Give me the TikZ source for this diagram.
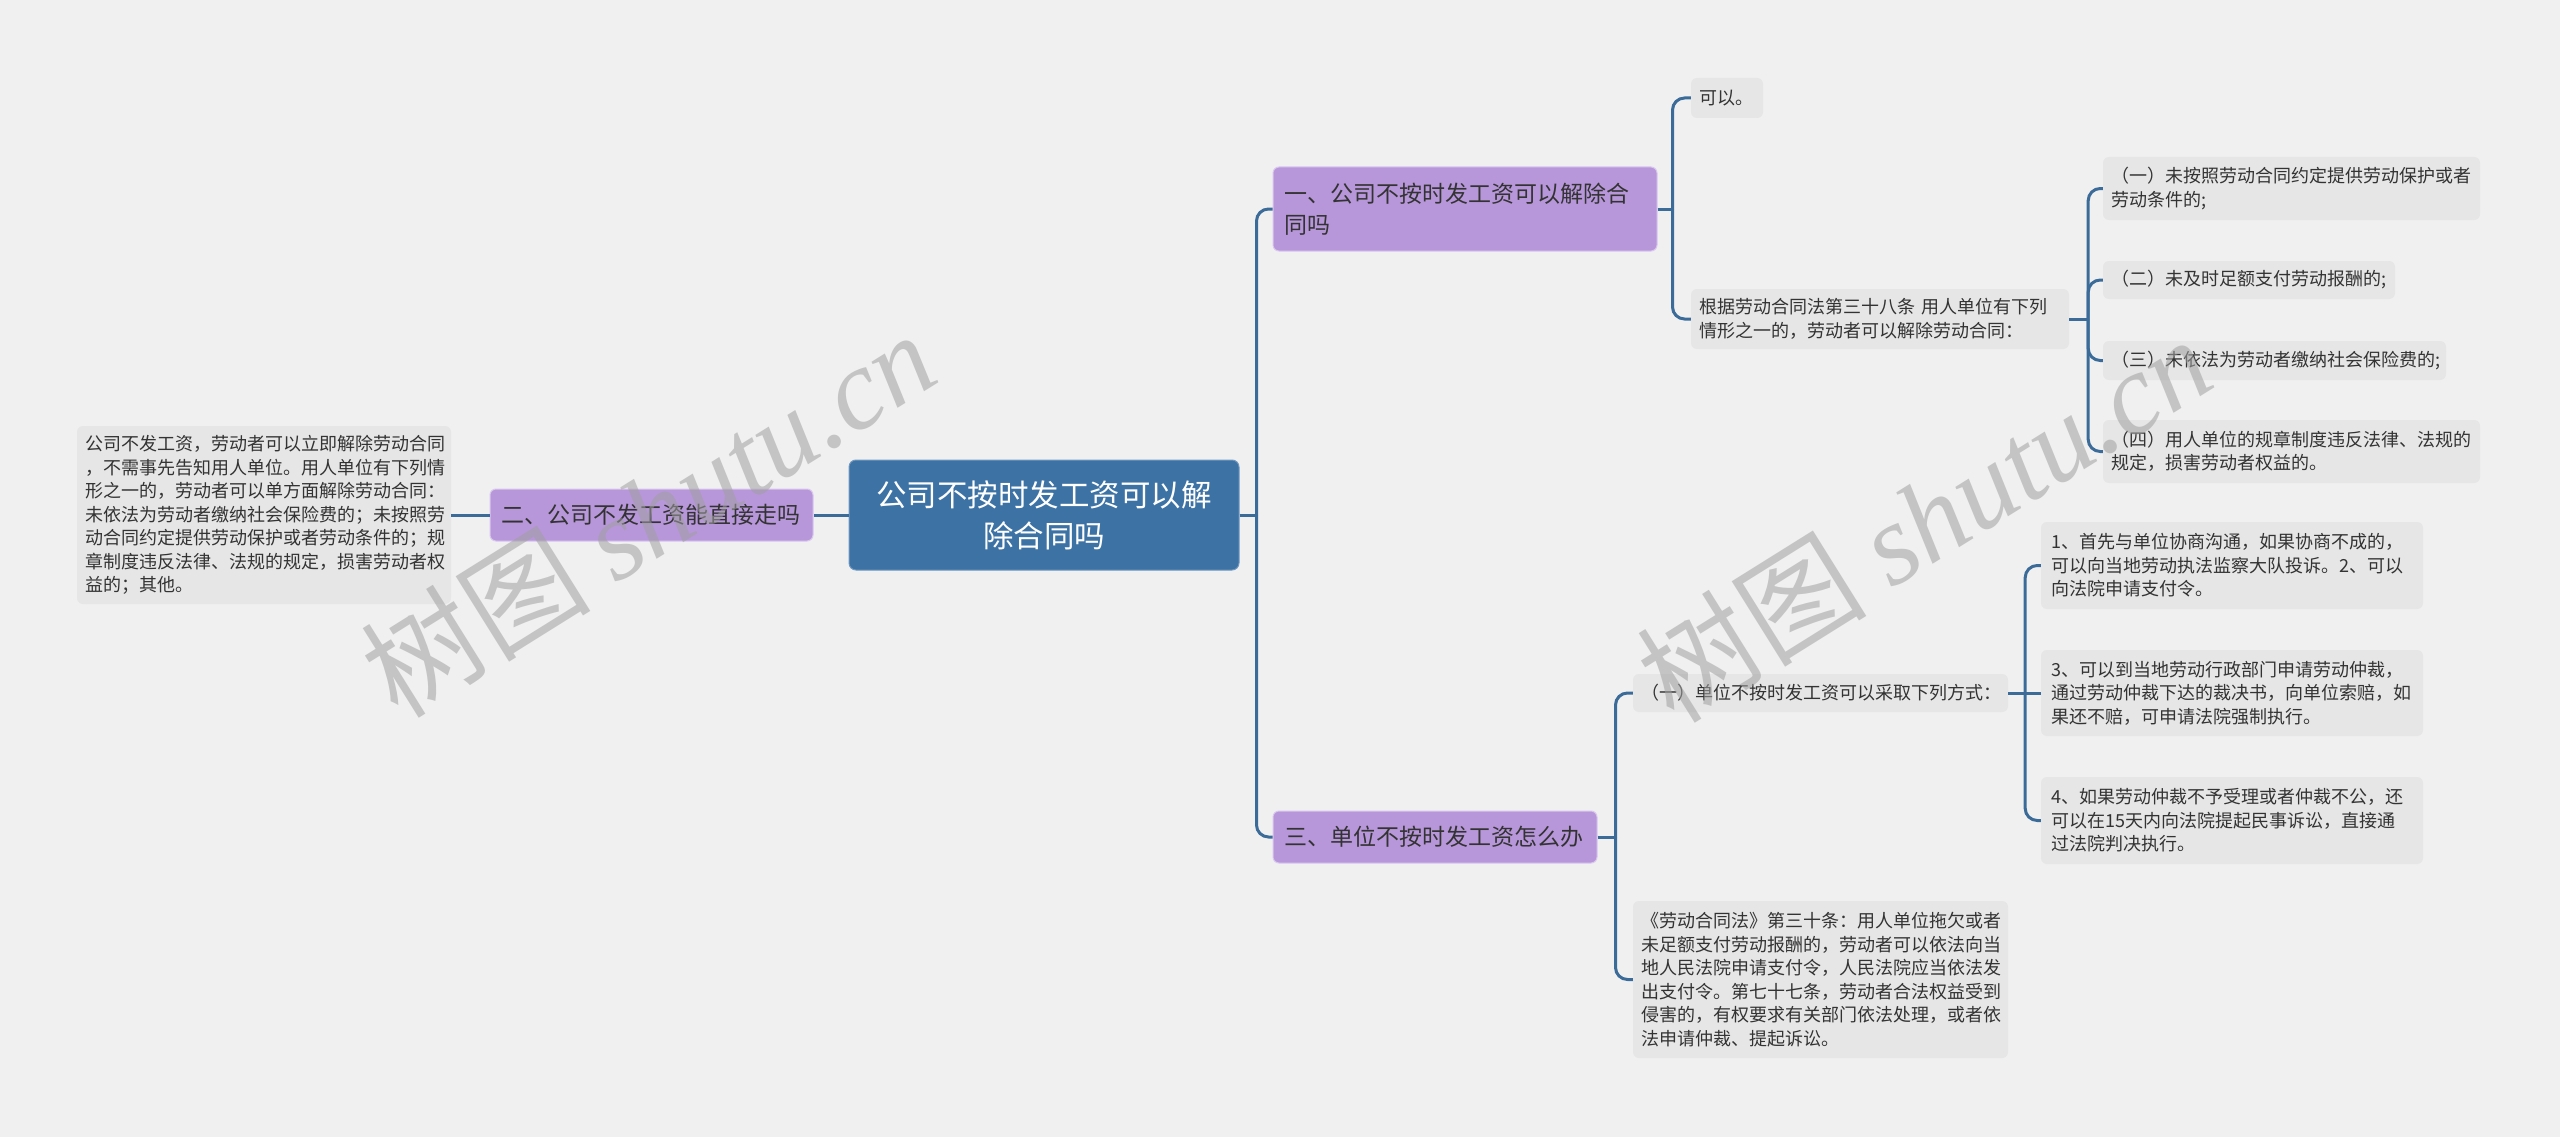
\documentclass[tikz,border=0pt]{standalone}
\usepackage{fontspec}
\setmainfont{Noto Sans CJK SC}
\newfontfamily\wmlatin{Liberation Serif}
\usetikzlibrary{calc}
\definecolor{bgc}{HTML}{F0F0F0}
\definecolor{leaff}{HTML}{E6E6E6}
\definecolor{brf}{HTML}{B797DA}
\definecolor{brd}{HTML}{D9C8EE}
\definecolor{rootf}{HTML}{3D72A5}
\definecolor{rootd}{HTML}{6F97C0}
\definecolor{linec}{HTML}{3B6B98}
\definecolor{txt}{HTML}{333333}
\definecolor{wmc}{HTML}{A0A0A0}
\begin{document}
\begin{tikzpicture}[x=1pt,y=-1pt,
  conn/.style={draw=linec, line width=3pt, rounded corners=12pt},
  leaf/.style={fill=leaff, rounded corners=6pt, inner xsep=8pt, inner ysep=0pt,
    align=left, text=txt, font=\fontsize{18}{23.5}\selectfont, anchor=center},
  branch/.style={fill=brf, draw=brd, line width=1pt, rounded corners=6pt,
    inner xsep=11pt, inner ysep=0pt, align=left, text=txt,
    font=\fontsize{23}{31}\selectfont, anchor=center},
  rootbox/.style={fill=rootf, draw=rootd, line width=1pt, rounded corners=7pt,
    inner xsep=15pt, inner ysep=0pt, align=center, text=white,
    font=\fontsize{30.5}{41}\selectfont, anchor=center},
  wm/.style={text=wmc, opacity=0.55, rotate=32, inner sep=0pt,
    font=\fontsize{115}{115}\selectfont}]
\useasboundingbox (0,0) rectangle (2560,1137);
\fill[bgc] (0,0) rectangle (2560,1137);

% root and left side
\node[rootbox, text width=360pt, minimum height=110pt] (root) at (1044,515)
  {公司不按时发工资可以解\\除合同吗};
\node[branch, text width=301pt, minimum height=52pt] (lb) at (651.5,515)
  {二、公司不发工资能直接走吗};
\node[leaf, text width=358pt, minimum height=178pt] (ll) at (264,515)
  {公司不发工资，劳动者可以立即解除劳动合同\\
   ，不需事先告知用人单位。用人单位有下列情\\
   形之一的，劳动者可以单方面解除劳动合同：\\
   未依法为劳动者缴纳社会保险费的；未按照劳\\
   动合同约定提供劳动保护或者劳动条件的；规\\
   章制度违反法律、法规的规定，损害劳动者权\\
   益的；其他。};

% branch 1
\node[branch, text width=362pt, minimum height=84pt] (b1) at (1465,209)
  {一、公司不按时发工资可以解除合\\同吗};
\node[leaf, text width=56pt, minimum height=40pt] (yes) at (1727,98) {可以。};
\node[leaf, text width=362pt, minimum height=60pt] (gen) at (1880,319)
  {根据劳动合同法第三十八条 用人单位有下列\\情形之一的，劳动者可以解除劳动合同：};
\node[leaf, text width=361pt, minimum height=63pt] (s1) at (2291.5,188.5)
  {（一）未按照劳动合同约定提供劳动保护或者\\劳动条件的;};
\node[leaf, text width=276pt, minimum height=38pt] (s2) at (2249,280)
  {（二）未及时足额支付劳动报酬的;};
\node[leaf, text width=327pt, minimum height=39pt] (s3) at (2274.5,360.5)
  {（三）未依法为劳动者缴纳社会保险费的;};
\node[leaf, text width=361pt, minimum height=63pt] (s4) at (2291.5,451.5)
  {（四）用人单位的规章制度违反法律、法规的\\规定，损害劳动者权益的。};

% branch 2
\node[branch, text width=302pt, minimum height=52pt] (b2) at (1435,837)
  {三、单位不按时发工资怎么办};
\node[leaf, text width=359pt, minimum height=38pt] (m) at (1820.5,693)
  {（一）单位不按时发工资可以采取下列方式：};
\node[leaf, inner xsep=10pt, text width=362pt, minimum height=87pt] (w1) at (2232,565.5)
  {1、首先与单位协商沟通，如果协商不成的，\\可以向当地劳动执法监察大队投诉。2、可以\\向法院申请支付令。};
\node[leaf, inner xsep=10pt, text width=362pt, minimum height=86pt] (w3) at (2232,693)
  {3、可以到当地劳动行政部门申请劳动仲裁，\\通过劳动仲裁下达的裁决书，向单位索赔，如\\果还不赔，可申请法院强制执行。};
\node[leaf, inner xsep=10pt, text width=362pt, minimum height=87pt] (w4) at (2232,820.5)
  {4、如果劳动仲裁不予受理或者仲裁不公，还\\可以在15天内向法院提起民事诉讼，直接通\\过法院判决执行。};
\node[leaf, text width=359pt, minimum height=157pt] (law) at (1820.5,979.5)
  {《劳动合同法》第三十条：用人单位拖欠或者\\
   未足额支付劳动报酬的，劳动者可以依法向当\\
   地人民法院申请支付令，人民法院应当依法发\\
   出支付令。第七十七条，劳动者合法权益受到\\
   侵害的，有权要求有关部门依法处理，或者依\\
   法申请仲裁、提起诉讼。};

% connectors
\coordinate (j0) at ($(root.east)+(17,0)$);
\draw[conn] (root.east) -- (j0);
\draw[conn] (j0) |- (b1.west);
\draw[conn] (j0) |- (b2.west);
\draw[conn] (root.west) -- (lb.east);
\draw[conn] (lb.west) -- (ll.east);

\coordinate (j1) at ($(b1.east)+(15,0)$);
\draw[conn] (b1.east) -- (j1);
\draw[conn] (j1) |- (yes.west);
\draw[conn] (j1) |- (gen.west);

\coordinate (j2) at ($(gen.east)+(19,0)$);
\draw[conn] (gen.east) -- (j2);
\draw[conn] (j2) |- (s1.west);
\draw[conn] (j2) |- (s2.west);
\draw[conn] (j2) |- (s3.west);
\draw[conn] (j2) |- (s4.west);

\coordinate (j3) at ($(b2.east)+(18,0)$);
\draw[conn] (b2.east) -- (j3);
\draw[conn] (j3) |- (m.west);
\draw[conn] (j3) |- (law.west);

\coordinate (j4) at ($(m.east)+(17,0)$);
\draw[conn] (m.east) -- (j4);
\draw[conn] (j4) |- (w1.west);
\draw[conn] (j4) -- (w3.west);
\draw[conn] (j4) |- (w4.west);

% watermarks
\node[wm] (wm1) at (648,513) {树图 {\wmlatin\itshape shutu.cn}};
\node[wm] (wm2) at (1924,518) {树图 {\wmlatin\itshape shutu.cn}};
\end{tikzpicture}
\end{document}
